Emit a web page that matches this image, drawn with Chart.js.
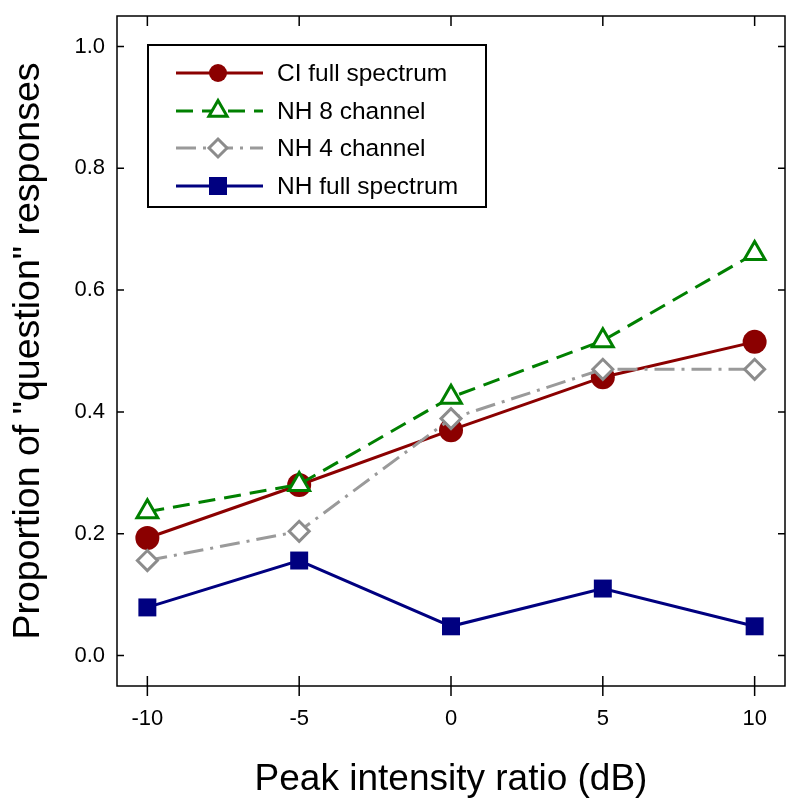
<!DOCTYPE html>
<html>
<head>
<meta charset="utf-8">
<script src="https://cdn.jsdelivr.net/npm/chart.js@4.4.0/dist/chart.umd.min.js"></script>
<style>
  html, body { margin: 0; padding: 0; background: #fff; }
  canvas { display: block; }
</style>
</head>
<body>
<canvas id="chart" width="800" height="811"></canvas>
<script>
// values
const ratios = [-10, -5, 0, 5, 10]
const ciFull = [0.193, 0.280, 0.370, 0.457, 0.515]
const nh8 = [0.236, 0.281, 0.424, 0.517, 0.660]
const nh4 = [0.156, 0.204, 0.389, 0.470, 0.470]
const nhFull = [0.079, 0.156, 0.048, 0.110, 0.048]
const yTicks = [0.0, 0.2, 0.4, 0.6, 0.8, 1.0]

const FONT = "'Liberation Sans', Arial, sans-serif"

function points(values) {
  return ratios.map((x, i) => ({ x: x, y: values[i] }))
}

// series styles, also used by the legend below
const series = [
  {
    label: 'CI full spectrum', values: ciFull, color: '#8b0000', dash: [],
    marker: 'circle', fill: '#8b0000', order: 2,
  },
  {
    label: 'NH 8 channel', values: nh8, color: '#008000', dash: [17, 9],
    marker: 'triangle', fill: '#ffffff', order: 0,
  },
  {
    label: 'NH 4 channel', values: nh4, color: '#9a9a9a', dash: [20, 7, 3, 7],
    marker: 'rectRot', fill: '#ffffff', stroke: '#8c8c8c', order: 1,
  },
  {
    label: 'NH full spectrum', values: nhFull, color: '#000080', dash: [],
    marker: 'rect', fill: '#000080', order: 3,
  },
]

const radius = { circle: 12, triangle: 12, rectRot: 10, rect: 12.7 }

// draws the frame and the inward / crossing tick marks
const frameTicks = {
  id: 'frameTicks',
  afterDraw(chart) {
    const { ctx, chartArea: a, scales } = chart
    ctx.save()
    ctx.strokeStyle = '#000'
    ctx.lineWidth = 1.5
    ctx.strokeRect(a.left, a.top, a.right - a.left, a.bottom - a.top)
    ctx.beginPath()
    scales.x.ticks.forEach(t => {
      const px = scales.x.getPixelForValue(t.value)
      ctx.moveTo(px, a.bottom - 10)
      ctx.lineTo(px, a.bottom + 10)
      ctx.moveTo(px, a.top)
      ctx.lineTo(px, a.top + 10)
    })
    scales.y.ticks.forEach(t => {
      const py = scales.y.getPixelForValue(t.value)
      ctx.moveTo(a.left, py)
      ctx.lineTo(a.left + 7, py)
      ctx.moveTo(a.right, py)
      ctx.lineTo(a.right - 7, py)
    })
    ctx.stroke()
    ctx.restore()
  },
}

function drawMarker(ctx, s, cx, cy) {
  ctx.beginPath()
  if (s.marker === 'circle') {
    ctx.arc(cx, cy, 9, 0, Math.PI * 2)
  } else if (s.marker === 'triangle') {
    const r = 10.5
    ctx.moveTo(cx, cy - r)
    ctx.lineTo(cx + r * 0.866, cy + r * 0.5)
    ctx.lineTo(cx - r * 0.866, cy + r * 0.5)
    ctx.closePath()
  } else if (s.marker === 'rectRot') {
    const r = 9
    ctx.moveTo(cx, cy - r)
    ctx.lineTo(cx + r, cy)
    ctx.lineTo(cx, cy + r)
    ctx.lineTo(cx - r, cy)
    ctx.closePath()
  } else {
    ctx.rect(cx - 9, cy - 9, 18, 18)
  }
  ctx.fillStyle = s.fill
  ctx.fill()
  if (s.fill === '#ffffff') {
    ctx.setLineDash([])
    ctx.lineWidth = 3
    ctx.strokeStyle = s.stroke || s.color
    ctx.stroke()
  }
}

// boxed legend in the upper left of the plot
const boxLegend = {
  id: 'boxLegend',
  afterDatasetsDraw(chart) {
    const ctx = chart.ctx
    ctx.save()
    ctx.fillStyle = '#fff'
    ctx.fillRect(148, 45, 338, 162)
    ctx.strokeStyle = '#000'
    ctx.lineWidth = 2
    ctx.strokeRect(148, 45, 338, 162)
    const rows = [73, 111, 148, 186]
    series.forEach((s, i) => {
      const y = rows[i]
      ctx.beginPath()
      ctx.setLineDash(s.dash)
      ctx.strokeStyle = s.color
      ctx.lineWidth = 3
      ctx.moveTo(176, y)
      ctx.lineTo(263, y)
      ctx.stroke()
      drawMarker(ctx, s, 218, y)
      ctx.fillStyle = '#000'
      ctx.font = '24.5px ' + FONT
      ctx.textBaseline = 'middle'
      ctx.textAlign = 'left'
      ctx.fillText(s.label, 277, y + 1)
    })
    ctx.restore()
  },
}

const datasets = series.map(s => ({
  label: s.label,
  data: points(s.values),
  order: s.order,
  borderColor: s.color,
  borderWidth: 3,
  borderDash: s.dash,
  pointStyle: s.marker,
  pointRadius: radius[s.marker],
  pointBackgroundColor: s.fill,
  pointBorderColor: s.stroke || s.color,
  pointBorderWidth: s.fill === '#ffffff' ? 3 : 0,
  tension: 0,
  fill: false,
}))

new Chart(document.getElementById('chart'), {
  type: 'line',
  data: { datasets },
  plugins: [frameTicks, boxLegend],
  options: {
    responsive: false,
    animation: false,
    events: [],
    layout: { padding: { top: 16, right: 14, left: 0, bottom: 0 } },
    plugins: { legend: { display: false }, tooltip: { enabled: false } },
    scales: {
      x: {
        type: 'linear',
        min: -11,
        max: 11,
        afterFit: scale => {
          scale.height = 125
          scale.paddingLeft = 0
          scale.paddingRight = 0
        },
        grid: { display: false, drawTicks: false },
        border: { display: false },
        ticks: {
          stepSize: 5,
          includeBounds: false,
          padding: 20,
          color: '#000',
          font: { family: FONT, size: 22 },
          callback: v => String(v),
        },
        title: {
          display: true,
          text: 'Peak intensity ratio (dB)',
          color: '#000',
          font: { family: FONT, size: 37 },
          padding: { top: 0, bottom: 9 },
        },
      },
      y: {
        type: 'linear',
        min: -0.05,
        max: 1.05,
        afterFit: scale => {
          scale.width = 117
          scale.paddingTop = 0
          scale.paddingBottom = 0
        },
        afterBuildTicks: scale => { scale.ticks = yTicks.map(v => ({ value: v })) },
        grid: { display: false, drawTicks: false },
        border: { display: false },
        ticks: {
          padding: 12,
          color: '#000',
          font: { family: FONT, size: 22 },
          callback: v => v.toFixed(1),
        },
        title: {
          display: true,
          text: 'Proportion of "question" responses',
          color: '#000',
          font: { family: FONT, size: 37.5 },
          padding: { top: 6, bottom: 0 },
        },
      },
    },
  },
})
</script>
</body>
</html>
